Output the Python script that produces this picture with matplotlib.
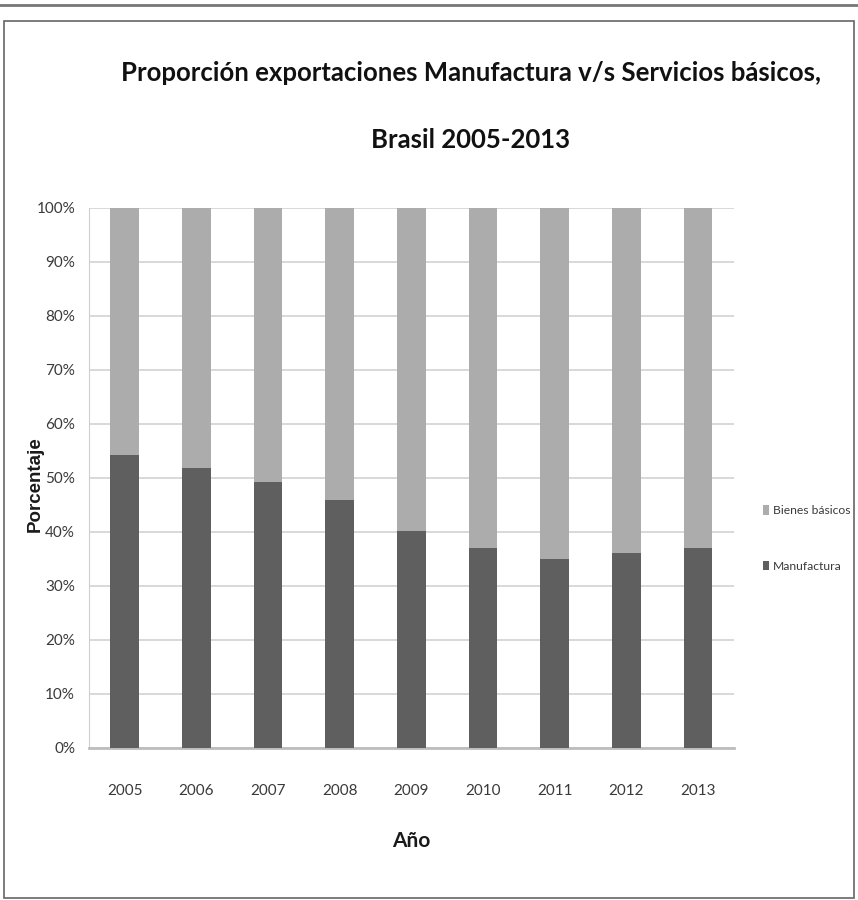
import matplotlib.pyplot as plt
from matplotlib.patches import Rectangle

plt.rcParams['font.family'] = ['Lato', 'DejaVu Sans']

anios = ['2005', '2006', '2007', '2008', '2009', '2010', '2011', '2012', '2013']
manufactura = [54.2, 51.8, 49.2, 45.9, 40.1, 37.1, 34.9, 36.1, 37.1]
bienes_basicos = [100 - m for m in manufactura]
yticks = [0, 10, 20, 30, 40, 50, 60, 70, 80, 90, 100]

fig = plt.figure(figsize=(8.58, 9.0), dpi=100)
# area de trazado: x 89-734 px, y 208-748 px
ax = fig.add_axes([0.1037, 0.169, 0.7517, 0.6])

x = range(len(anios))
ax.bar(x, manufactura, width=0.4, color='#5f5f5f', label='Manufactura', zorder=3)
ax.bar(x, bienes_basicos, width=0.4, bottom=manufactura, color='#acacac',
       label='Bienes básicos', zorder=3)

ax.set_xlim(-0.5, len(anios) - 0.5)
ax.set_ylim(0, 100)
ax.set_yticks(yticks)
ax.set_yticklabels([f'{v}%' for v in yticks])
ax.set_xticks(list(x))
ax.set_xticklabels(anios)
ax.tick_params(axis='both', labelsize=11, colors='#3a3a3a', length=0)
ax.tick_params(axis='x', pad=26)
ax.tick_params(axis='y', pad=10)
ax.grid(axis='y', color='#d6d6d6', linewidth=1.3, zorder=0)
for s in ['top', 'right']:
    ax.spines[s].set_visible(False)
ax.spines['left'].set_color('#cfcfcf')
ax.spines['bottom'].set_color('#bdbdbd')
ax.spines['bottom'].set_linewidth(2)

ax.set_xlabel('Año', fontsize=15, fontweight='bold', color='#1a1a1a', labelpad=24)
fig.text(0.041, 0.462, 'Porcentaje', rotation=90, ha='center', va='center',
         fontsize=13.5, fontweight='bold', family=['Liberation Sans', 'DejaVu Sans'],
         color='#1a1a1a')

fig.text(0.549, 0.919, 'Proporción exportaciones Manufactura v/s Servicios básicos,',
         ha='center', va='center', fontsize=18.5, fontweight='bold', color='#111111')
fig.text(0.549, 0.844, 'Brasil 2005-2013', ha='center', va='center',
         fontsize=18.5, fontweight='bold', color='#111111')

h, l = ax.get_legend_handles_labels()
fig.legend(h[::-1], l[::-1], loc='center left', bbox_to_anchor=(0.889, 0.4017),
           frameon=False, fontsize=8.7, labelcolor='#3a3a3a', handlelength=0.5,
           handleheight=0.8, handletextpad=0.35, labelspacing=3.7,
           borderaxespad=0, borderpad=0)

# marco del gráfico y franja superior
fig.patches.append(Rectangle((0.005, 0.002), 0.99, 0.975, transform=fig.transFigure,
                             fill=False, edgecolor='#666666', linewidth=1.2))
fig.add_artist(plt.Line2D([0, 1], [0.995, 0.995], transform=fig.transFigure,
                          color='#777777', linewidth=2))

fig.savefig('out.png', dpi=100)
